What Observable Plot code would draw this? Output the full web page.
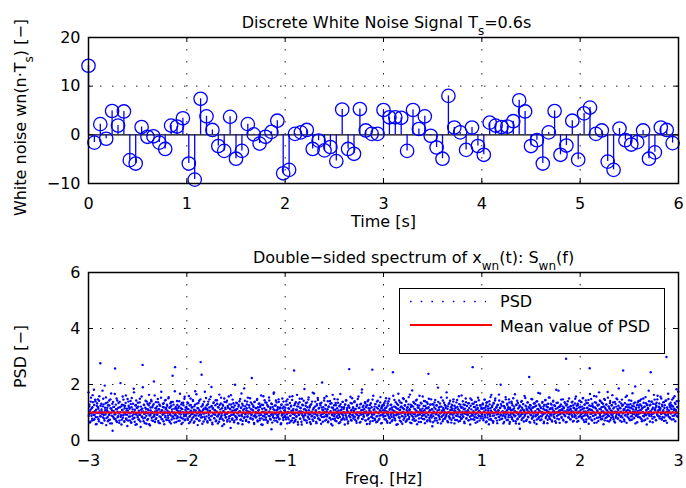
<!DOCTYPE html>
<html><head><meta charset="utf-8">
<script src="https://cdn.jsdelivr.net/npm/d3@7"></script>
<script src="https://cdn.jsdelivr.net/npm/@observablehq/plot@0.6"></script>
<style>
body{margin:0;background:#fff;}
#wrap{position:relative;width:686px;height:488px;font-family:"DejaVu Sans";}
#wrap > svg{position:absolute;left:0;}
#legend{position:absolute;left:399px;top:288px;width:266px;height:66px;box-sizing:border-box;border:1px solid #000;background:#fff;}
</style></head><body><div id="wrap"></div>
<script>
// ---- top panel: discrete white noise samples (sample period 0.06 s)
const Ts = 0.06;
const noise = [14.2,-1.6,2.2,-0.8,4.9,1.9,4.8,-5.2,-5.9,1.6,-0.4,-0.3,-1.6,-2.9,1.9,1.7,3.4,-5.9,-9.2,7.4,
3.8,1.0,-2.3,-3.3,3.7,-4.9,-3.3,2.2,0.1,-1.8,-0.4,0.6,2.9,-7.9,-7.2,0.2,0.5,1.0,-2.9,-1.2,
-3.2,-2.5,-5.4,5.2,-2.9,-3.9,5.3,0.9,0.2,0.2,5.1,3.6,3.6,3.5,-3.3,5.1,1.2,3.8,-0.2,-2.6,
-4.9,8.0,1.5,0.5,-3.1,1.5,-2.3,-4.1,2.5,1.9,1.6,1.7,2.8,7.1,4.8,-2.3,-1.1,-5.9,0.5,4.9,
-4.1,-2.2,2.9,-5.1,4.4,5.6,0.2,0.9,-5.5,-7.2,1.3,-1.1,-2.0,-1.5,0.9,-4.9,-3.6,1.5,1.0,-1.7];
const timeTicks = [0,1,2,3,4,5,6];
const noiseTicks = [-10,0,10,20];

// ---- bottom panel: PSD values (in hundredths). One pair of arrays per 1 Hz band
// (-3..-2, -2..-1, ... 2..3): "A" = even frequency bins, "A2" = odd frequency bins.
const psdA = [172,95,128,64,110,153,88,71,119,137,92,181,76,105,140,58,99,124,83,147,
113,69,158,97,276,86,131,104,62,122,149,91,78,196,108,133,55,101,117,84,
126,73,143,96,61,115,168,89,107,35,138,82,120,94,257,77,112,150,66,103,
87,134,98,71,119,205,90,57,128,109,81,146,100,68,123,93,161,75,114,52,
106,139,85,118,72,97,130,63,152,88,111,79,185,102,67,125,94,143,58,116,
83,121,99,74,136,91,48,110,157,86,270,104,69,127,95,81,142,113,60,98,
131,77,108,163,89,54,118,96,140,72,101,125,85,211,93,66,115,137,80,106,
92,148,70,112,129,62,99,84,174,107,76,120,95,133,58,103,88,145,117,73,
124,97,81,155,102,67,119,90,138,75,111,231,86,128,100,64,262,94,113,79,
141,87,105,70,122,96,167,83,115,59,134,101,78,126,93,149,72,109,88,120];
const psdA2 = [88,121,104,67,139,96,115,78,162,101,73,127,92,146,84,110,59,133,98,119,
76,142,105,87,124,63,111,95,178,82,129,100,71,117,93,154,80,108,136,69,
102,91,125,74,147,99,113,61,131,86,120,105,77,166,94,128,70,112,143,83,
117,96,63,138,101,85,122,74,109,157,90,126,68,115,99,134,79,107,92,148,
71,124,98,113,86,141,65,119,102,77,131,94,172,81,110,56,127,97,118,89,
135,75,106,92,149,68,121,100,84,114,190,79,128,95,62,117,103,88,139,73,
112,96,126,58,133,90,107,145,81,119,98,70,130,87,161,104,76,115,93,122,
99,137,64,111,86,124,101,153,77,108,92,131,69,118,97,143,83,112,74,128,
106,89,151,72,117,95,133,61,124,103,85,138,97,79,114,176,90,120,66,109,
127,82,116,98,140,71,105,93,129,80,112,64,135,100,87,156,75,118,94,103];
const psdB = [98,136,74,112,159,85,103,67,127,94,118,80,145,101,63,122,90,176,107,78,
131,96,55,115,88,142,71,104,280,92,235,83,125,109,68,139,97,76,118,152,
86,113,64,130,99,81,147,106,73,121,191,89,58,116,134,95,79,108,126,69,
102,144,87,61,119,93,164,77,111,132,84,98,52,128,105,71,150,90,117,82,
137,95,68,123,100,157,79,114,88,45,129,103,74,146,92,118,65,108,199,85,
111,76,133,97,62,121,89,140,104,73,116,168,87,58,125,99,80,113,142,94,
70,107,129,84,153,96,65,118,102,78,136,91,223,110,75,124,87,59,139,100,
82,115,97,148,68,106,131,89,72,120,95,161,79,113,56,127,101,86,144,93,
109,74,135,98,63,122,88,154,104,77,118,92,40,130,99,84,112,172,71,125,
96,143,81,107,66,119,93,138,76,114,102,58,127,89,150,97,73,121,85,108];
const psdB2 = [114,79,133,97,62,125,88,150,106,73,119,95,141,84,110,68,128,101,89,165,
77,116,99,134,71,108,93,147,82,121,103,60,130,96,114,85,174,78,112,98,
126,69,107,139,91,118,74,102,156,87,123,64,113,97,136,80,109,92,144,72,
104,131,86,119,95,67,127,100,81,153,90,115,76,124,105,58,138,94,112,83,
97,142,73,117,101,86,129,68,111,162,92,120,79,106,133,95,71,125,88,108,
135,82,113,97,61,127,104,89,148,75,118,93,131,70,109,99,186,84,122,96,
73,115,139,87,104,66,126,98,151,81,112,94,130,77,107,120,63,137,90,116,
101,85,145,72,119,97,110,132,79,124,92,57,128,103,88,158,74,115,99,136,
82,109,95,127,69,121,101,143,86,113,75,132,98,64,120,91,167,80,108,97,
125,71,136,90,112,84,147,99,78,118,104,62,129,93,115,81,139,96,107,88];
const psdC = [117,83,140,95,61,128,102,76,113,156,88,69,124,98,145,80,107,64,250,92,
131,74,110,87,163,99,57,121,93,137,78,115,104,67,149,90,126,82,111,184,
96,72,134,101,63,119,85,146,108,77,123,94,59,130,103,88,171,70,116,97,
81,139,106,66,125,92,152,79,114,100,74,132,89,60,118,207,95,109,84,143,
102,71,127,93,158,86,112,65,120,98,80,141,105,75,133,91,54,117,99,87,
148,78,110,126,69,103,89,135,96,62,122,84,166,107,73,119,94,138,81,113,
100,57,129,90,144,76,116,104,68,123,255,97,83,134,108,71,151,92,119,86,
106,140,74,113,95,63,128,101,79,157,88,117,99,66,131,93,182,77,110,124,
85,102,137,72,119,96,59,126,91,145,80,107,114,68,133,98,84,253,70,160,
94,112,78,130,103,65,118,87,142,99,74,123,89,136,105,61,115,121,92,108];
const psdC2 = [103,76,128,94,147,82,115,99,63,134,89,121,106,72,158,95,113,80,126,69,
98,137,85,110,122,66,131,91,104,149,78,117,96,57,128,101,87,142,74,113,
90,124,108,71,136,97,82,154,93,118,65,127,100,86,139,75,111,96,168,83,
121,94,107,62,130,88,145,79,116,101,73,126,92,135,84,109,67,119,98,152,
86,113,127,74,105,91,140,68,122,96,81,131,103,59,118,94,163,77,110,126,
93,71,134,99,84,115,147,80,107,92,124,65,130,97,111,76,138,89,102,119,
75,128,96,143,83,109,100,61,125,88,117,94,156,73,106,132,90,114,79,101,
137,85,112,97,70,123,91,148,82,116,99,64,129,93,108,171,77,120,95,87,
112,98,133,71,104,125,89,140,76,115,96,60,127,103,84,119,92,146,80,109,
94,121,73,130,101,86,139,68,114,97,125,78,108,155,90,117,63,126,99,84];
const psdD = [97,133,76,115,88,151,104,69,124,92,140,81,110,63,127,99,85,118,73,244,
106,90,145,78,120,101,56,131,94,113,167,83,109,71,136,96,122,87,60,116,
102,148,80,125,93,67,139,108,75,119,97,155,84,112,64,128,100,89,179,74,
121,95,134,70,111,86,143,103,58,126,91,117,79,160,98,107,66,132,88,114,
77,105,141,93,62,123,99,84,137,72,115,238,149,81,108,68,129,92,112,51,
130,87,104,118,71,145,95,80,126,100,63,138,89,110,76,121,98,154,85,107,
69,116,92,135,103,78,124,88,172,97,113,65,130,101,83,142,94,119,74,109,
125,82,147,96,61,114,105,89,136,73,120,99,86,158,107,70,128,93,117,79,
102,140,85,111,67,127,95,150,78,96,104,91,133,72,116,98,57,124,88,145,
94,262,76,131,100,84,119,63,138,97,112,80,153,90,106,71,126,99,87,118];
const psdD2 = [126,88,107,140,75,118,96,63,132,101,85,149,79,114,92,128,69,110,97,160,
83,121,104,72,137,90,115,98,58,127,94,143,81,109,119,67,134,100,87,151,
74,112,96,126,86,141,70,117,103,91,129,77,108,164,95,120,62,124,99,85,
138,78,113,94,130,72,106,146,89,118,101,66,125,93,111,135,80,104,97,157,
90,123,76,109,140,86,115,98,69,131,92,119,103,74,128,88,147,82,111,96,
65,127,100,136,79,113,94,125,71,107,189,90,118,84,132,97,61,121,105,88,
143,76,110,99,127,83,116,95,153,70,122,101,87,134,78,109,96,64,128,114,
92,139,81,106,124,73,117,100,88,145,95,112,68,130,102,84,121,77,161,93,
118,86,129,97,62,114,104,137,80,123,91,108,72,133,99,85,150,76,111,97,
131,89,105,120,74,138,93,110,82,126,67,116,101,144,87,103,125,79,113,95];
const psdE = [113,86,129,72,104,146,91,118,65,135,99,82,122,107,58,140,94,115,77,163,
101,125,88,69,132,97,110,150,80,119,93,62,128,106,84,143,74,116,199,90,
123,78,105,137,95,66,120,87,155,102,73,131,98,112,83,147,60,117,92,108,
139,81,126,96,70,114,103,165,89,61,127,100,76,134,93,118,85,42,122,107,
94,141,79,111,130,68,104,88,152,97,121,74,109,136,83,99,227,115,64,125,
90,105,147,82,119,96,71,133,101,86,124,59,140,92,113,78,129,104,168,87,
116,75,102,138,93,121,67,110,97,145,84,128,106,62,119,99,154,80,112,94,
131,89,72,117,103,142,85,126,96,69,113,181,100,78,135,91,120,107,63,124,
98,146,81,108,122,74,115,93,137,87,104,292,66,129,100,118,83,150,95,111,
76,123,105,90,139,68,117,99,84,132,109,157,79,114,96,127,70,103,141,88];
const psdE2 = [94,132,78,115,101,146,83,109,125,68,137,92,114,99,75,129,87,155,106,72,
120,97,63,134,89,112,143,80,104,118,71,126,95,108,164,85,117,93,130,77,
102,139,88,61,123,100,115,81,147,94,107,127,73,119,90,136,66,112,98,84,
133,76,110,151,92,121,86,105,69,128,99,142,79,114,96,60,125,103,88,138,
73,117,95,130,82,108,159,91,124,70,113,97,136,85,104,119,66,127,93,110,
148,78,116,99,87,132,64,121,105,91,139,75,112,96,170,83,107,124,72,118,
100,86,135,94,113,62,127,97,144,80,109,121,90,74,131,103,86,153,77,115,
96,128,68,111,139,93,105,81,123,99,63,134,88,116,102,178,76,120,94,108,
129,84,112,97,147,71,118,104,89,132,65,125,96,110,140,82,107,93,121,76,
113,98,136,85,103,126,70,115,92,149,88,107,124,67,131,99,84,118,142,101];
const psdF = [120,94,137,79,112,151,87,104,66,129,98,143,75,116,91,134,107,60,125,258,
83,110,148,96,71,123,102,88,159,77,118,93,135,64,106,127,99,82,172,113,
91,140,76,119,104,86,131,58,122,97,145,80,111,128,95,70,153,101,87,116,
134,73,107,92,126,162,84,114,99,68,138,103,81,121,94,147,78,109,186,90,
117,100,85,132,67,124,96,250,108,75,113,89,155,102,63,128,93,119,80,144,
106,72,130,98,115,87,169,103,79,122,95,136,61,111,90,127,105,84,141,118,
97,142,81,109,124,69,116,100,150,86,120,93,74,133,107,57,129,96,113,178,
88,125,104,244,139,94,112,65,131,99,83,146,108,118,72,135,92,160,101,86,
121,79,110,156,95,77,128,84,103,137,70,116,99,142,89,298,63,111,93,148,
107,130,82,118,96,126,75,123,101,152,88,114,134,69,109,97,140,120,85,174];
const psdF2 = [109,138,84,121,97,152,73,115,128,90,104,67,134,99,117,86,145,79,112,166,
95,123,74,108,131,88,119,100,63,137,92,114,157,81,106,125,70,128,96,143,
84,111,99,135,77,120,104,89,148,72,116,94,129,83,107,173,90,122,68,113,
141,97,81,126,105,92,136,76,118,99,64,131,87,150,102,113,79,124,95,138,
71,115,103,88,146,82,127,98,112,69,133,91,120,106,160,85,109,96,128,77,
118,101,86,142,74,123,95,111,132,80,104,193,88,117,99,65,136,93,125,107,
83,129,98,147,76,114,102,88,135,71,121,97,155,90,110,126,79,116,101,140,
94,68,128,105,87,139,78,117,96,163,84,112,130,73,124,99,147,89,108,119,
132,86,115,100,150,75,122,97,108,137,82,126,94,71,143,103,118,91,167,85,
101,124,79,135,98,112,146,88,121,76,109,158,93,130,104,183,87,119,97,141];
const psdMean = 1.0;
const freqTicks = [-3,-2,-1,0,1,2,3];
const psdTicks = [0,2,4,6];

const BLUE = "#0000ff", RED = "#ff0000";
const fmt = d => (d < 0 ? "\u2212" + Math.abs(d) : String(d));
const gridStyle = {stroke: "#222", strokeWidth: 1, strokeDasharray: "1.5,10.5"};
const baseStyle = {fontFamily: "DejaVu Sans", fontSize: "16px", color: "#000", background: "transparent", overflow: "visible"};

const stems = noise.map((v, i) => ({t: i * Ts, v}));
const bands = [[psdA, psdA2], [psdB, psdB2], [psdC, psdC2], [psdD, psdD2], [psdE, psdE2], [psdF, psdF2]];
const psd = [];
for (const [even, odd] of bands) even.forEach((v, j) => psd.push(v, odd[j]));
const spec = psd.map((v, i) => ({f: -3 + 6 * i / (psd.length - 1), s: v / 100}));

const wrap = document.getElementById("wrap");

const p1 = Plot.plot({
  width: 686, height: 240, marginLeft: 88, marginRight: 8, marginTop: 37, marginBottom: 57,
  style: baseStyle,
  x: {domain: [0, 6], ticks: timeTicks, tickSize: 0, tickPadding: 14, tickFormat: fmt, label: null},
  y: {domain: [-10, 20], ticks: noiseTicks, tickSize: 0, tickPadding: 8, tickFormat: fmt, label: null},
  marks: [
    Plot.ruleX(timeTicks.slice(1, -1), gridStyle),
    Plot.ruleY([10], gridStyle),
    Plot.ruleY([0], {stroke: "#000", strokeWidth: 1.2}),
    Plot.ruleX(stems, {x: "t", y1: 0, y2: "v", stroke: BLUE, strokeWidth: 1.3}),
    Plot.dot(stems, {x: "t", y: "v", r: 6.7, stroke: BLUE, strokeWidth: 1.3}),
    Plot.tickX(timeTicks, {x: d => d, insetTop: 141, stroke: "#000"}),
    Plot.tickX(timeTicks, {x: d => d, insetBottom: 141, stroke: "#000"}),
    Plot.tickY(noiseTicks, {y: d => d, insetRight: 585, stroke: "#000"}),
    Plot.tickY(noiseTicks, {y: d => d, insetLeft: 585, stroke: "#000"}),
    Plot.frame({stroke: "#000", strokeWidth: 1.5}),
    Plot.text(["Time [s]"], {frameAnchor: "bottom", lineAnchor: "middle", textAnchor: "middle", dy: 38}),
    Plot.text(["@T1"], {frameAnchor: "top", lineAnchor: "middle", textAnchor: "middle", dy: -15, dx: 3}),
    Plot.text(["@Y1"], {frameAnchor: "left", lineAnchor: "middle", textAnchor: "middle", dx: -68, dy: 7, rotate: -90})
  ]
});
p1.style.top = "0px";
wrap.appendChild(p1);

const p2 = Plot.plot({
  width: 686, height: 248, marginLeft: 88, marginRight: 8, marginTop: 32, marginBottom: 48,
  style: baseStyle,
  x: {domain: [-3, 3], ticks: freqTicks, tickSize: 0, tickPadding: 14, tickFormat: fmt, label: null},
  y: {domain: [0, 6], ticks: psdTicks, tickSize: 0, tickPadding: 8, tickFormat: fmt, label: null},
  marks: [
    Plot.ruleX(freqTicks.slice(1, -1), gridStyle),
    Plot.ruleY(psdTicks.slice(1, -1), gridStyle),
    Plot.dot(spec, {x: "f", y: "s", r: 1.2, fill: BLUE}),
    Plot.ruleY([psdMean], {stroke: RED, strokeWidth: 2}),
    Plot.tickX(freqTicks, {x: d => d, insetTop: 163, stroke: "#000"}),
    Plot.tickX(freqTicks, {x: d => d, insetBottom: 163, stroke: "#000"}),
    Plot.tickY(psdTicks, {y: d => d, insetRight: 585, stroke: "#000"}),
    Plot.tickY(psdTicks, {y: d => d, insetLeft: 585, stroke: "#000"}),
    Plot.frame({stroke: "#000", strokeWidth: 1.5}),
    Plot.text(["Freq. [Hz]"], {frameAnchor: "bottom", lineAnchor: "middle", textAnchor: "middle", dy: 38}),
    Plot.text(["@T2"], {frameAnchor: "top", lineAnchor: "middle", textAnchor: "middle", dy: -14.5, dx: 30}),
    Plot.text(["PSD [\u2212]"], {frameAnchor: "left", lineAnchor: "middle", textAnchor: "middle", dx: -68, rotate: -90})
  ]
});
p2.style.top = "240px";
wrap.appendChild(p2);

function rich(svg, key, parts) {
  d3.select(svg).selectAll("text").filter(function () { return this.textContent === key; }).each(function () {
    const t = d3.select(this);
    t.text(null);
    let prevSub = false;
    for (const [s, sub] of parts) {
      const ts = t.append("tspan").text(s);
      if (sub) { ts.attr("font-size", 12).attr("dy", 7); prevSub = true; }
      else if (prevSub) { ts.attr("dy", -7); prevSub = false; }
    }
  });
}
rich(p1, "@T1", [["Discrete White Noise Signal T"], ["s", true], ["=0.6s"]]);
rich(p1, "@Y1", [["White noise wn(n\u00b7T"], ["s", true], [") [\u2212]"]]);
rich(p2, "@T2", [["Double\u2212sided spectrum of x"], ["wn", true], ["(t): S"], ["wn", true], ["(f)"]]);

// legend box
const lg = document.createElement("div");
lg.id = "legend";
lg.innerHTML = `<svg width="264" height="64" style="display:block;font-family:'DejaVu Sans';font-size:16px">
<line x1="10" x2="86" y1="12.5" y2="12.5" stroke="${BLUE}" stroke-width="1.6" stroke-dasharray="1.6,9.1"/>
<text x="100" y="18">PSD</text>
<line x1="10" x2="92" y1="36" y2="36" stroke="${RED}" stroke-width="2"/>
<text x="100" y="43">Mean value of PSD</text></svg>`;
wrap.appendChild(lg);
</script>
</body></html>
